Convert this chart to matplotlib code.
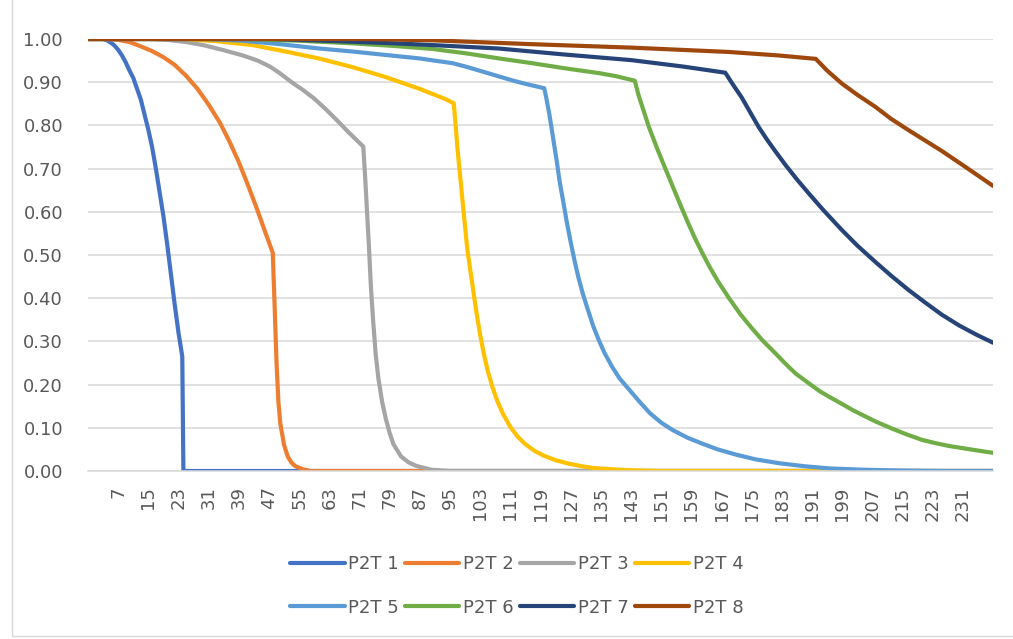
import matplotlib
matplotlib.use("Agg")
import matplotlib.pyplot as plt
from matplotlib.patches import Rectangle

# (time, value) samples for each series
p2t1_t = [-1, 3, 4, 5, 6, 7, 8, 9, 10, 11, 12, 13, 14, 15, 16, 17, 18, 19, 20, 21, 22, 23, 24, 24.3, 239]
p2t1_v = [1.0, 1.0, 0.997, 0.992, 0.985, 0.975, 0.962, 0.946, 0.927, 0.91, 0.885, 0.86, 0.825, 0.79, 0.75,
          0.70, 0.645, 0.59, 0.525, 0.455, 0.385, 0.32, 0.265, 0.0, 0.0]

p2t2_t = [-1, 4, 7, 10, 13, 16, 19, 22, 25, 28, 31, 34, 36.5, 39, 41.5, 44, 46, 48, 48.5, 49, 49.5, 50, 51,
          52, 53, 54, 56, 58, 239]
p2t2_v = [1.0, 1.0, 0.998, 0.993, 0.983, 0.972, 0.958, 0.94, 0.915, 0.885, 0.848, 0.806, 0.763, 0.715, 0.66,
          0.602, 0.553, 0.505, 0.38, 0.25, 0.16, 0.11, 0.06, 0.033, 0.019, 0.011, 0.004, 0.0, 0.0]

p2t3_t = [-1, 15, 20, 25, 30, 35, 40, 44, 47.3, 50, 53, 56, 59, 62, 65, 68, 70, 72, 72.5, 73, 73.5, 74, 74.6,
          75.3, 76, 77, 78, 79, 80, 82, 84, 86, 90, 95, 239]
p2t3_v = [1.0, 1.0, 0.998, 0.993, 0.985, 0.974, 0.962, 0.95, 0.936, 0.92, 0.90, 0.882, 0.862, 0.838, 0.812,
          0.785, 0.768, 0.751, 0.68, 0.60, 0.52, 0.43, 0.35, 0.27, 0.215, 0.16, 0.12, 0.088, 0.062, 0.034,
          0.02, 0.012, 0.003, 0.0, 0.0]

p2t4_t = [-1, 24, 33, 42.6, 51.4, 60.2, 69.1, 77.9, 86.8, 90.3, 93.8, 96, 96.5, 97, 97.5, 98, 98.5, 99, 99.6,
          100.3, 101, 102, 103, 104, 105, 106.2, 107.5, 109, 111, 113, 115, 117.5, 120, 123, 126.5, 130, 133,
          138, 142, 150, 239]
p2t4_v = [1.0, 1.0, 0.995, 0.986, 0.971, 0.955, 0.935, 0.912, 0.885, 0.873, 0.861, 0.851, 0.80, 0.745, 0.70,
          0.655, 0.61, 0.565, 0.512, 0.47, 0.428, 0.368, 0.315, 0.27, 0.232, 0.196, 0.163, 0.133, 0.102, 0.079,
          0.062, 0.046, 0.035, 0.025, 0.017, 0.011, 0.007, 0.004, 0.002, 0.0, 0.0]

p2t5_t = [-1, 30, 40, 50, 60.3, 69.2, 78, 86.9, 95.7, 99.2, 103.5, 108.1, 112, 115.1, 120, 120.5, 121.3, 122,
          122.7, 123.4, 124, 125, 126, 127, 128, 129, 130.2, 131.5, 133, 134.5, 136, 138, 140, 142.6, 145, 148,
          151, 154, 158, 162, 166, 170.8, 176, 182.3, 189, 195.6, 204.4, 215, 225, 239]
p2t5_v = [1.0, 1.0, 0.996, 0.988, 0.978, 0.971, 0.963, 0.955, 0.944, 0.936, 0.925, 0.913, 0.903, 0.896, 0.886,
          0.865, 0.828, 0.79, 0.751, 0.712, 0.674, 0.625, 0.575, 0.53, 0.488, 0.45, 0.411, 0.375, 0.335, 0.302,
          0.273, 0.241, 0.214, 0.1875, 0.163, 0.134, 0.112, 0.095, 0.077, 0.063, 0.05, 0.038, 0.027, 0.018,
          0.011, 0.006, 0.003, 0.001, 0.0, 0.0]

p2t6_t = [-1, 40, 55, 69, 80, 90.3, 99.1, 108, 116.8, 125.6, 134.5, 139, 144, 145, 146, 147.8, 150, 152.2,
          154, 156, 158, 160, 162, 164, 166, 169, 172, 175, 177.8, 181, 184, 186.6, 190, 193,
          195.5, 199, 202, 204.3, 208, 212, 216, 220.2, 224, 227.3, 233, 239]
p2t6_v = [1.0, 1.0, 0.996, 0.99, 0.984, 0.977, 0.967, 0.955, 0.944, 0.932, 0.921, 0.914, 0.9035, 0.87, 0.843,
          0.795, 0.745, 0.698, 0.66, 0.618, 0.577, 0.538, 0.503, 0.47, 0.44, 0.40, 0.363, 0.331, 0.303, 0.275,
          0.248, 0.226, 0.204, 0.185, 0.172, 0.155, 0.14, 0.13, 0.114, 0.099, 0.085, 0.072,
          0.064, 0.058, 0.05, 0.042]

p2t7_t = [-1, 48, 65, 80, 90.2, 107.9, 125.5, 143.2, 157, 168, 170, 172.4, 174.5, 176.8, 179, 181.2, 184, 187,
          190.1, 194, 198.9, 203, 207.8, 212, 216.6, 221, 225.4, 230, 234.5, 239]
p2t7_v = [1.0, 1.0, 0.995, 0.99, 0.986, 0.978, 0.964, 0.951, 0.936, 0.922, 0.895, 0.864, 0.832, 0.797, 0.768,
          0.741, 0.708, 0.675, 0.643, 0.604, 0.558, 0.522, 0.484, 0.452, 0.419, 0.39, 0.362, 0.337, 0.316, 0.297]

p2t8_t = [-1, 72, 90.2, 116.7, 143.2, 168.9, 182, 192, 195, 198.9, 203, 207.8, 212, 216.6, 221, 225.4, 232, 239]
p2t8_v = [1.0, 1.0, 0.997, 0.988, 0.98, 0.97, 0.962, 0.954, 0.927, 0.897, 0.871, 0.843, 0.815, 0.789, 0.765,
          0.741, 0.702, 0.66]

labels = ["P2T 1", "P2T 2", "P2T 3", "P2T 4", "P2T 5", "P2T 6", "P2T 7", "P2T 8"]
colors = ["#4472C4", "#ED7D31", "#A5A5A5", "#FFC000", "#5B9BD5", "#70AD47", "#264478", "#9E480E"]
x_ticks = list(range(7, 232, 8))
y_ticks = [0.0, 0.1, 0.2, 0.3, 0.4, 0.5, 0.6, 0.7, 0.8, 0.9, 1.0]

series = [(p2t1_t, p2t1_v), (p2t2_t, p2t2_v), (p2t3_t, p2t3_v), (p2t4_t, p2t4_v),
          (p2t5_t, p2t5_v), (p2t6_t, p2t6_v), (p2t7_t, p2t7_v), (p2t8_t, p2t8_v)]

text_col = "#595959"
grid_col = "#D9D9D9"

fig = plt.figure(figsize=(10.13, 6.39), dpi=100)
ax = fig.add_axes([88 / 1013, 1 - 471 / 639, 905 / 1013, 432 / 639])

handles = []
for (t, v), lab, c in zip(series, labels, colors):
    ln, = ax.plot(t, v, color=c, lw=3.0, label=lab, solid_capstyle="round", solid_joinstyle="round")
    handles.append(ln)

ax.set_xlim(-1, 239)
ax.set_ylim(0, 1.0)
ax.set_xticks(x_ticks)
ax.set_xticklabels([str(x) for x in x_ticks], rotation=90, fontsize=13, color=text_col)
ax.set_yticks(y_ticks)
ax.set_yticklabels([f"{y:.2f}" for y in y_ticks], fontsize=13, color=text_col)
ax.tick_params(axis="x", length=0, pad=11)
ax.tick_params(axis="y", length=0, pad=18)
ax.grid(axis="y", color=grid_col, lw=1.1)
ax.set_axisbelow(True)
for s in ["top", "right", "left"]:
    ax.spines[s].set_visible(False)
ax.spines["bottom"].set_color(grid_col)
ax.spines["bottom"].set_linewidth(1.1)

# legend fills column by column, so reorder to get rows 1-4 / 5-8
order = [0, 4, 1, 5, 2, 6, 3, 7]
leg = fig.legend([handles[i] for i in order], [labels[i] for i in order],
                 loc="center", bbox_to_anchor=(517 / 1013, 1 - 586 / 639), ncol=4, frameon=False,
                 fontsize=13, handlelength=3.0, handletextpad=0.2, columnspacing=0.35, labelspacing=1.4)
for txt in leg.get_texts():
    txt.set_color(text_col)
for h in leg.get_lines():
    h.set_linewidth(3.0)
    h.set_solid_capstyle("round")

# chart area border
fig.patches.append(Rectangle((12 / 1013, 3 / 639), 1.2, 1.2, transform=fig.transFigure,
                             fill=False, edgecolor=grid_col, lw=1.0))

fig.savefig("out.png", dpi=100)
